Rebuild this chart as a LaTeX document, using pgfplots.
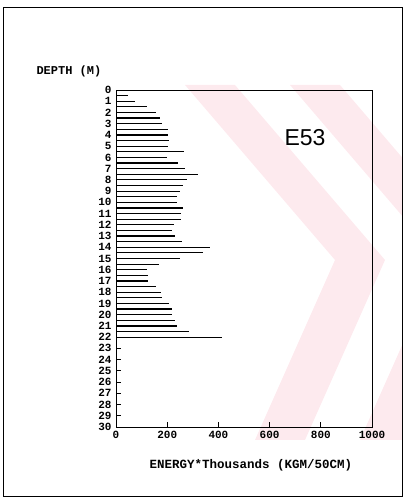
\documentclass[border=0pt]{standalone}
\usepackage{pgfplots}
\pgfplotsset{compat=1.18}
\usepackage{fontspec}
\setmainfont{Liberation Serif}
\setmonofont{Liberation Mono}
\newfontfamily\sans{Liberation Sans}
\definecolor{wm}{RGB}{253,234,238}
\begin{document}
\begin{tikzpicture}[x=1pt,y=1pt]
\useasboundingbox (0,0) rectangle (408,500);
% watermark
\begin{scope}
\clip (3,4) rectangle (402,493);
\fill[wm] (185,415) -- (235,415) -- (385,240) -- (305,60) -- (255,60) -- (335,240) -- cycle;
\fill[wm] (290,415) -- (340,415) -- (490,240) -- (410,60) -- (360,60) -- (440,240) -- cycle;
\end{scope}
\draw[line width=0.9pt] (3,4) rectangle (402,493);
\begin{axis}[
  at={(116pt,73pt)}, anchor=south west,
  scale only axis, width=256pt, height=337pt,
  xmin=0, xmax=1000, ymin=0, ymax=30,
  y dir=reverse,
  xtick={0,200,400,600,800,1000},
  ytick={0,...,30},
  tick pos=left,
  major tick length=5pt,
  axis line style={line width=1pt},
  tick style={line width=0.8pt, black},
  /pgf/number format/1000 sep={},
  /pgf/number format/assume math mode=true,
  ticklabel style={font=\ttfamily\bfseries\fontsize{11}{11}\selectfont},
  yticklabel style={xshift=-1pt},
  xticklabel style={yshift=-1pt},
  clip=false,
]
\addplot[xcomb, black, line width=1.2pt] coordinates {
(45,0.5) (76,1.0) (123,1.5) (158,2.0) (170,2.5) (180,3.0) (205,3.5) (205,4.0)
(206,4.5) (205,5.0) (266,5.5) (198,6.0) (244,6.5) (270,7.0) (321,7.5) (276,8.0)
(263,8.5) (249,9.0) (240,9.5) (240,10.0) (262,10.5) (255,11.0) (252,11.5) (226,12.0)
(220,12.5) (232,13.0) (256,13.5) (368,14.0) (341,14.5) (251,15.0) (168,15.5) (122,16.0)
(125,16.5) (126,17.0) (155,17.5) (175,18.0) (178,18.5) (207,19.0) (220,19.5) (220,20.0)
(230,20.5) (240,21.0) (285,21.5) (415,22.0)
};
\end{axis}
\node[font=\ttfamily\bfseries\fontsize{12}{12}\selectfont, anchor=west] at (33,429) {DEPTH (M)};
\node[font=\ttfamily\bfseries\fontsize{12.5}{12.5}\selectfont] at (251,35) {ENERGY*Thousands (KGM/50CM)};
\node[font=\sans\fontsize{23}{23}\selectfont] at (305,362) {E53};
\end{tikzpicture}
\end{document}
